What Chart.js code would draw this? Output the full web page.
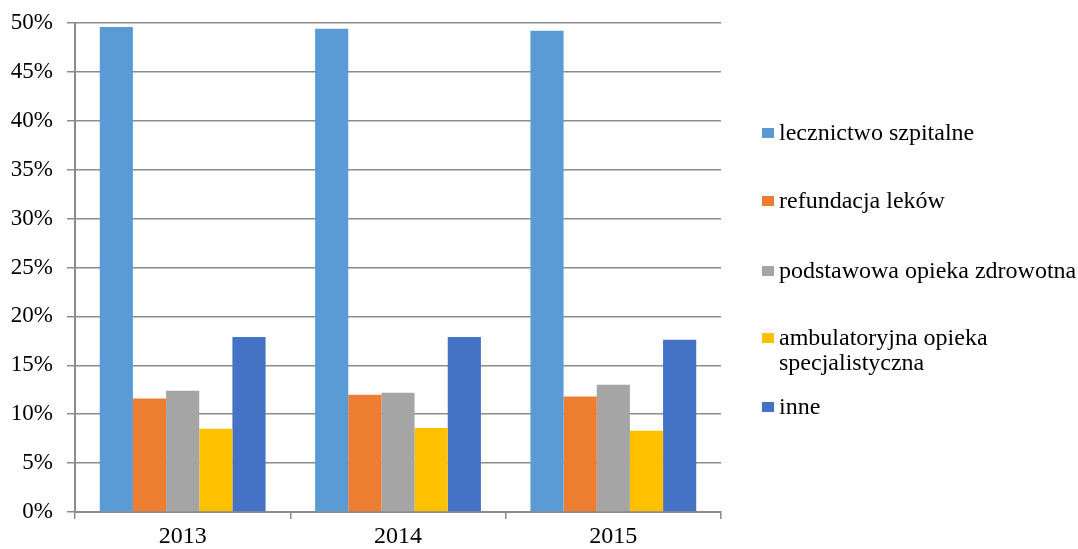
<!DOCTYPE html>
<html>
<head>
<meta charset="utf-8">
<script src="https://cdn.jsdelivr.net/npm/chart.js@4"></script>
<style>
	body { margin: 0; background: #fff; }
	.wrap { position: relative; width: 1078px; height: 549px; }
	#chart { position: absolute; left: 0; top: 0; }
	.legend { position: absolute; left: 0; top: 0; font-family: 'Liberation Serif', 'Times New Roman', serif; font-size: 24px; color: #000; }
	.legend .item { position: absolute; left: 762px; width: 320px; line-height: 25px; }
	.legend .box { position: absolute; left: 0; top: 8px; width: 12px; height: 10px; }
	.legend .txt { position: absolute; left: 17px; top: 0; white-space: nowrap; }
</style>
</head>
<body>
<div class="wrap">
	<canvas id="chart" width="1078" height="549"></canvas>
	<div class="legend" id="legend"></div>
</div>
<script>
const years = ['2013', '2014', '2015'];

const lecznictwoSzpitalne = [49.6, 49.4, 49.2];
const refundacjaLekow = [11.6, 12.0, 11.8];
const podstawowaOpieka = [12.4, 12.2, 13.0];
const ambulatoryjnaOpieka = [8.5, 8.6, 8.3];
const inne = [17.9, 17.9, 17.6];

const seriesNames = [
	'lecznictwo szpitalne',
	'refundacja leków',
	'podstawowa opieka zdrowotna',
	['ambulatoryjna opieka', 'specjalistyczna'],
	'inne',
];
const seriesColors = ['#5B9BD5', '#ED7D31', '#A5A5A5', '#FFC000', '#4472C4'];
const seriesValues = [lecznictwoSzpitalne, refundacjaLekow, podstawowaOpieka, ambulatoryjnaOpieka, inne];

const gridColor = '#8c8c8c';
const fontSerif = "'Liberation Serif', 'Times New Roman', serif";

var datasets = seriesValues.map((vals, i) => ({
	label: Array.isArray(seriesNames[i]) ? seriesNames[i].join(' ') : seriesNames[i],
	data: vals,
	backgroundColor: seriesColors[i],
	borderWidth: 0,
	barPercentage: 1,
	categoryPercentage: 0.77,
}));

var ctx = document.getElementById('chart').getContext('2d');
var chart = new Chart(ctx, {
	type: 'bar',
	data: { labels: years, datasets: datasets },
	options: {
		responsive: false,
		animation: false,
		layout: { padding: { top: 23, right: 357, left: 0, bottom: 0 } },
		plugins: { legend: { display: false }, tooltip: { enabled: false } },
		scales: {
			x: {
				border: { color: gridColor, width: 2 },
				grid: { offset: true, drawOnChartArea: false, color: gridColor, lineWidth: 1.5, tickLength: 7 },
				ticks: { color: '#000', font: { family: fontSerif, size: 24 }, padding: 3 },
				afterFit: (s) => { s.height = 37; },
			},
			y: {
				min: 0,
				max: 50,
				border: { color: gridColor, width: 2 },
				grid: { color: gridColor, lineWidth: 1.5, tickLength: 8 },
				ticks: {
					stepSize: 5,
					color: '#000',
					font: { family: fontSerif, size: 23 },
					padding: 14,
					callback: (v) => v + '%',
				},
				// fixed axis width; top label may overhang the plot
				afterFit: (s) => {
					s.width = 75;
					s.paddingTop = 0;
					s.paddingBottom = 0;
				},
			},
		},
	},
});

// legend on the right, one entry per series
const legendTops = [120, 188, 258, 325, 394];
let legendEl = document.getElementById('legend');
seriesNames.forEach((name, i) => {
	let item = document.createElement('div');
	item.className = 'item';
	item.style.top = legendTops[i] + 'px';
	let text = Array.isArray(name) ? name.join('<br>') : name;
	item.innerHTML = `<div class="box" style="background:${seriesColors[i]};"></div><div class="txt">${text}</div>`;
	legendEl.appendChild(item);
});
</script>
</body>
</html>
